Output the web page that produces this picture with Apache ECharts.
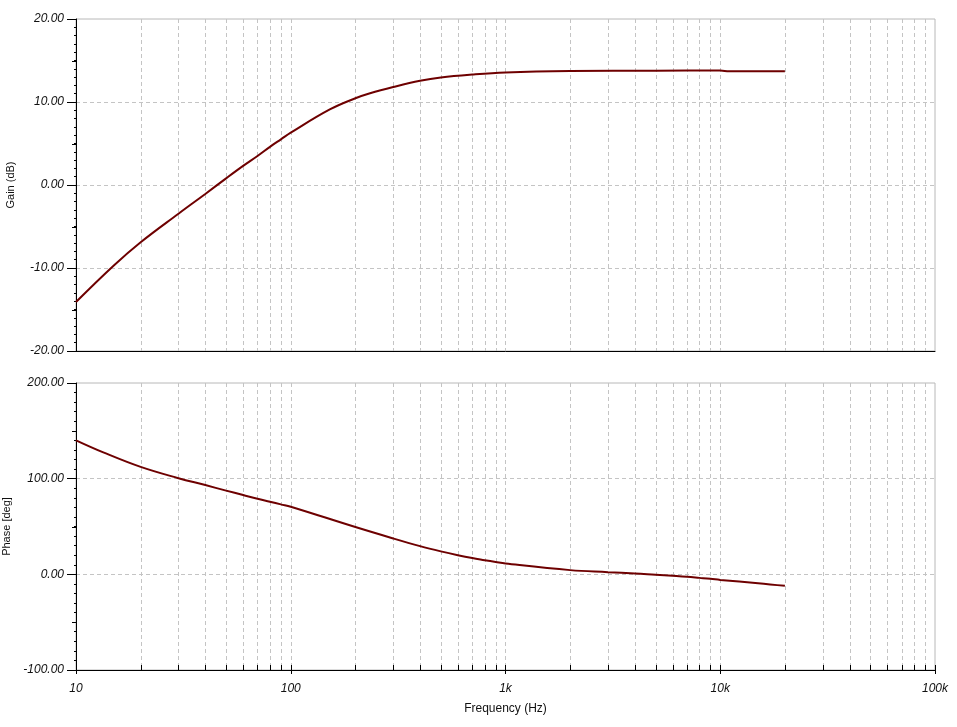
<!DOCTYPE html>
<html>
<head>
<meta charset="utf-8">
<script src="https://cdn.jsdelivr.net/npm/echarts@6/dist/echarts.min.js"></script>
<style>
html,body{margin:0;padding:0;background:#fff;}
#chart{width:957px;height:727px;}
</style>
</head>
<body>
<div id="chart"></div>
<script>
// ---- data ----
const gainFreq = [10, 15, 20, 30, 40, 50, 60, 70, 80, 90, 100, 152, 200, 234, 300, 400, 500, 700, 1000, 2000, 5000, 10000, 11000, 20000];
const gainDb   = [-14.1, -9.7, -6.9, -3.46, -1.08, 0.8, 2.3, 3.5, 4.6, 5.5, 6.3, 9.1, 10.45, 11.05, 11.8, 12.55, 12.95, 13.3, 13.55, 13.73, 13.78, 13.8, 13.69, 13.69];

const phaseFreq = [10, 13.4, 20, 30, 40, 50, 60, 70, 80, 90, 100, 200, 300, 400, 500, 600, 700, 800, 900, 1000, 2000, 3000, 4000, 5000, 6000, 7000, 8000, 9000, 10000, 15000, 20000];
const phaseDeg  = [140.1, 127.5, 112.3, 100.5, 93.3, 87.5, 82.9, 79, 75.9, 73.1, 70.7, 49.4, 37.5, 29.5, 24, 20, 17, 14.8, 12.9, 11.3, 4.4, 2.3, 0.9, -0.5, -1.6, -2.6, -3.7, -4.7, -5.8, -9.2, -12];

const majorFreqs  = [10, 100, 1000, 10000, 100000];
const majorLabels = ['10', '100', '1k', '10k', '100k'];
const minorFreqs  = [20,30,40,50,60,70,80,90, 200,300,400,500,600,700,800,900, 2000,3000,4000,5000,6000,7000,8000,9000, 20000,30000,40000,50000,60000,70000,80000,90000];
const gainHalfTicks  = [15, 5, -5, -15];
const phaseHalfTicks = [150, 50, -50];

// ---- styles ----
const FONT = "'Liberation Sans', Arial, sans-serif";
const CURVE = '#6e0000';
const GRIDC = '#c4c4c4';
const labelStyle = {fontFamily: FONT, fontStyle: 'italic', fontSize: 12, color: '#111'};

function vGridSeries(gridIdx, withTicks) {
  return {
    type: 'custom', xAxisIndex: gridIdx, yAxisIndex: gridIdx, z: 1, silent: true,
    clip: false,
    data: minorFreqs.map(f => [f, 0]),
    renderItem: function (params, api) {
      const cs = params.coordSys;
      const x = Math.round(api.coord([api.value(0), 0])[0]) + 0.5;
      const children = [{
        type: 'line',
        shape: {x1: x, y1: cs.y, x2: x, y2: cs.y + cs.height},
        style: {stroke: GRIDC, lineWidth: 1, lineDash: [4, 3]}
      }];
      if (withTicks) {
        children.push({
          type: 'line',
          shape: {x1: x, y1: cs.y + cs.height, x2: x, y2: cs.y + cs.height - 5},
          style: {stroke: '#000', lineWidth: 1}
        });
      }
      return {type: 'group', children: children};
    }
  };
}
function majorInsideTicks(gridIdx) {
  return {
    type: 'custom', xAxisIndex: gridIdx, yAxisIndex: gridIdx, z: 3, silent: true, clip: false,
    data: majorFreqs.map(f => [f, 0]),
    renderItem: function (params, api) {
      const cs = params.coordSys;
      const x = Math.round(api.coord([api.value(0), 0])[0]) + 0.5;
      return {type: 'line', shape: {x1: x, y1: cs.y + cs.height, x2: x, y2: cs.y + cs.height - 5},
              style: {stroke: '#000', lineWidth: 1}};
    }
  };
}
function halfTickSeries(gridIdx, vals) {
  return {
    type: 'custom', xAxisIndex: gridIdx, yAxisIndex: gridIdx, z: 3, silent: true, clip: false,
    data: vals.map(v => [10, v]),
    renderItem: function (params, api) {
      const cs = params.coordSys;
      const y = Math.round(api.coord([10, api.value(1)])[1]) + 0.5;
      return {type: 'line', shape: {x1: cs.x - 4, y1: y, x2: cs.x, y2: y},
              style: {stroke: '#000', lineWidth: 1}};
    }
  };
}

function xAxisBase(gridIdx, showLabels) {
  return {
    type: 'log', logBase: 10, gridIndex: gridIdx, min: 10, max: 100000,
    axisLine: {show: true, onZero: false, lineStyle: {color: '#000', width: 1}},
    axisTick: {show: showLabels, inside: false, length: 4, lineStyle: {color: '#000'}},
    axisLabel: Object.assign({show: showLabels, margin: 13,
      formatter: function (v) {
        const i = majorFreqs.indexOf(Math.round(v));
        return i >= 0 ? majorLabels[i] : '';
      }}, labelStyle),
    splitLine: {show: true, showMinLine: false, showMaxLine: false,
      lineStyle: {color: GRIDC, type: [4, 3], width: 1}},
    name: showLabels ? 'Frequency (Hz)' : '',
    nameLocation: 'middle', nameGap: 33,
    nameTextStyle: {fontFamily: FONT, fontSize: 12, color: '#111'}
  };
}
function yAxisBase(gridIdx, min, max, interval, name) {
  return {
    type: 'value', gridIndex: gridIdx, min: min, max: max, interval: interval,
    axisLine: {show: true, onZero: false, lineStyle: {color: '#000', width: 1}},
    axisTick: {show: true, inside: false, length: 9, lineStyle: {color: '#000'}},
    minorTick: {show: true, splitNumber: 10, length: 2, lineStyle: {color: '#000'}},
    axisLabel: Object.assign({margin: 12, formatter: v => v.toFixed(2)}, labelStyle),
    splitLine: {show: true, showMinLine: false, showMaxLine: false,
      lineStyle: {color: GRIDC, type: [4, 3], width: 1}},
    name: name, nameLocation: 'middle', nameRotate: 90, nameGap: 60,
    nameTextStyle: {fontFamily: FONT, fontSize: 11, color: '#111'}
  };
}

const chart = echarts.init(document.getElementById('chart'), null, {renderer: 'canvas'});
chart.setOption({
  animation: false,
  backgroundColor: '#fff',
  grid: [
    {left: 76, right: 22, top: 19, height: 332, show: true, borderColor: '#b8b8b8', borderWidth: 1, backgroundColor: 'transparent', containLabel: false, outerBoundsMode: 'none'},
    {left: 76, right: 22, top: 383, height: 287, show: true, borderColor: '#b8b8b8', borderWidth: 1, backgroundColor: 'transparent', containLabel: false, outerBoundsMode: 'none'}
  ],
  xAxis: [xAxisBase(0, false), xAxisBase(1, true)],
  yAxis: [yAxisBase(0, -20, 20, 10, 'Gain (dB)'), yAxisBase(1, -100, 200, 100, 'Phase [deg]')],
  series: [
    vGridSeries(0, false),
    vGridSeries(1, true),
    majorInsideTicks(1),
    halfTickSeries(0, gainHalfTicks),
    halfTickSeries(1, phaseHalfTicks),
    {
      type: 'line', xAxisIndex: 0, yAxisIndex: 0, z: 5, showSymbol: false, smooth: 0.4,
      data: gainFreq.map((f, i) => [f, gainDb[i]]),
      lineStyle: {color: CURVE, width: 2}
    },
    {
      type: 'line', xAxisIndex: 1, yAxisIndex: 1, z: 5, showSymbol: false, smooth: 0.4,
      data: phaseFreq.map((f, i) => [f, phaseDeg[i]]),
      lineStyle: {color: CURVE, width: 2}
    }
  ]
});
</script>
</body>
</html>
